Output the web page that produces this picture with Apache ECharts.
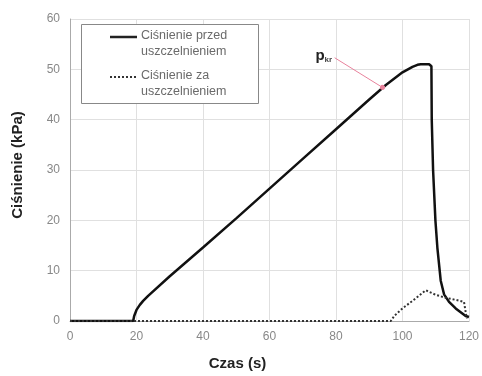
<!DOCTYPE html>
<html><head><meta charset="utf-8">
<script src="https://cdn.jsdelivr.net/npm/echarts@6/dist/echarts.min.js"></script>
<style>html,body{margin:0;padding:0;background:#fff}#c{width:482px;height:376px}</style>
</head><body><div id="c"></div>
<script>
const xTicks = [0,20,40,60,80,100,120];
const yTicks = [0,10,20,30,40,50,60];
const seriesNames = ['Ciśnienie przed\nuszczelnieniem', 'Ciśnienie za\nuszczelnieniem'];
const beforeTime = [0,19,19.3,20,21,22,23.5,30,40,50,60,70,80,90,95,100,103,104.5,105.5,108,108.7,108.8,109.2,109.9,110.5,111.5,112.5,114,116,118,119,120];
const beforeVal  = [0,0,1,2.2,3.2,4,5,8.9,14.6,20.4,26.3,32.2,38.1,44,46.9,49.4,50.5,50.9,51,51,50.6,40,30,20,14.5,8,5.3,3.8,2.5,1.5,1,0.8];
const afterTime = [0,96.5,97.5,100,104,107,110,113,116,118.5,119.2,119.5];
const afterVal  = [0,0,1,2.5,4.5,6.1,5.2,4.6,4.2,3.8,1,0.5];
const pkrFrom = [79.6, 52.3];
const pkrTo = [94, 46.4];

const zip = (a,b)=>a.map((v,i)=>[v,b[i]]);
const font = 'Liberation Sans, Arial, sans-serif';
const textGray = '#6a6a6a';
const chart = echarts.init(document.getElementById('c'));
chart.setOption({
  animation:false,
  grid:{left:70,right:12,top:19,bottom:51},
  xAxis:{type:'value',min:0,max:120,interval:20,
    name:'Czas (s)',nameLocation:'middle',nameGap:35,
    nameTextStyle:{fontFamily:font,fontSize:15,fontWeight:'bold',color:'#222',padding:[0,64,0,0]},
    axisLine:{lineStyle:{color:'#aaa'}},axisTick:{show:false},
    axisLabel:{fontFamily:font,fontSize:12,color:'#888',margin:10},
    splitLine:{lineStyle:{color:'#e0e0e0'}}},
  yAxis:{type:'value',min:0,max:60,interval:10,
    name:'Ciśnienie (kPa)',nameLocation:'middle',nameGap:45,
    nameTextStyle:{fontFamily:font,fontSize:15,fontWeight:'bold',color:'#222',padding:[0,0,0,10]},
    axisLine:{show:true,lineStyle:{color:'#aaa'}},axisTick:{show:false},
    axisLabel:{fontFamily:font,fontSize:12,color:'#888',margin:10},
    splitLine:{lineStyle:{color:'#e0e0e0'}}},
  graphic:[
    {type:'rect',shape:{x:81.5,y:24.5,width:177,height:79},style:{fill:'#fff',stroke:'#888',lineWidth:1},z:10},
    {type:'line',shape:{x1:110,y1:37,x2:137,y2:37},style:{stroke:'#222',lineWidth:2.5},z:11},
    {type:'line',shape:{x1:110,y1:77,x2:137,y2:77},style:{stroke:'#333',lineWidth:2,lineDash:[2,2]},z:11},
    {type:'text',x:141,y:28,z:11,style:{text:seriesNames[0],font:'12.5px Liberation Sans, Arial, sans-serif',fill:textGray,lineHeight:16}},
    {type:'text',x:141,y:68,z:11,style:{text:seriesNames[1],font:'12.5px Liberation Sans, Arial, sans-serif',fill:textGray,lineHeight:16}}
  ],
  series:[
    {name:seriesNames[0],type:'line',data:zip(beforeTime,beforeVal),showSymbol:false,symbol:'none',
     lineStyle:{color:'#111',width:2.5},itemStyle:{color:'#111'},
     markLine:{silent:true,symbol:['none','circle'],symbolSize:5,
       lineStyle:{color:'#e8829c',width:1,type:'solid'},
       label:{show:true,position:'start',distance:3,formatter:'{p|p}{k|kr}',
         rich:{p:{fontFamily:font,fontSize:15,fontWeight:'bold',color:'#222'},
               k:{fontFamily:font,fontSize:8,fontWeight:'bold',color:'#444',verticalAlign:'bottom',padding:[7,0,0,0]}}},
       data:[[{coord:pkrFrom},{coord:pkrTo}]]}},
    {name:seriesNames[1],type:'line',data:zip(afterTime,afterVal),showSymbol:false,symbol:'none',
     lineStyle:{color:'#333',width:2,type:'dotted'},itemStyle:{color:'#333'}}
  ]
});
</script></body></html>
